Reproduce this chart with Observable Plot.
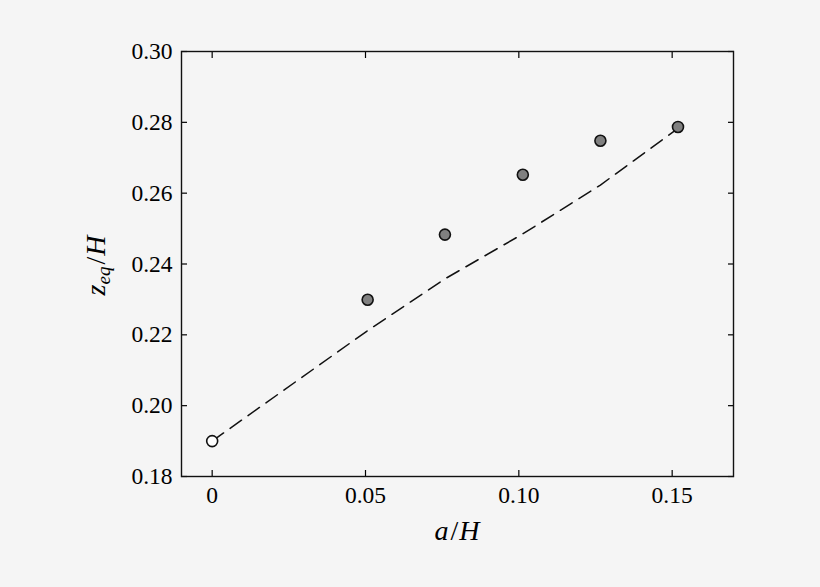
<!DOCTYPE html>
<html><head><meta charset="utf-8">
<script src="https://cdn.jsdelivr.net/npm/d3@7"></script>
<script src="https://cdn.jsdelivr.net/npm/@observablehq/plot@0.6"></script>
<style>html,body{margin:0;padding:0;background:#f5f5f5}</style>
</head><body><div id="chart"></div>
<script>
const xTicks = [0, 0.05, 0.10, 0.15];
const xTickLabels = ["0", "0.05", "0.10", "0.15"];
const yTicks = [0.18, 0.20, 0.22, 0.24, 0.26, 0.28, 0.30];
const yTickLabels = ["0.18", "0.20", "0.22", "0.24", "0.26", "0.28", "0.30"];

// filled markers
const aH = [0.0507, 0.0759, 0.1013, 0.1266, 0.1519];
const zeqH = [0.2299, 0.2483, 0.2652, 0.2748, 0.2787];
// open marker
const aOpen = [0];
const zOpen = [0.19];
// dashed curve
const lineA = [0, 0.0507, 0.0759, 0.1013, 0.1266, 0.1519];
const lineZ = [0.19, 0.2212, 0.2358, 0.2485, 0.2623, 0.2783];

const pts = aH.map((a, i) => ({a, z: zeqH[i]}));
const open = aOpen.map((a, i) => ({a, z: zOpen[i]}));
const line = lineA.map((a, i) => ({a, z: lineZ[i]}));

const lab = (ticks, labels) => d => labels[ticks.findIndex(t => Math.abs(t - d) < 1e-9)];
const font = "'Liberation Serif', 'DejaVu Serif', serif";

const plot = Plot.plot({
  width: 820, height: 587,
  marginLeft: 181, marginRight: 87, marginTop: 51, marginBottom: 111,
  style: {background: "#f5f5f5", fontFamily: font, color: "#000"},
  x: {domain: [-0.01, 0.17]},
  y: {domain: [0.18, 0.30]},
  marks: [
    Plot.axisX({ticks: xTicks, tickSize: 0, tickPadding: 10, tickFormat: lab(xTicks, xTickLabels), fontSize: 23.5, label: null}),
    Plot.axisY({ticks: yTicks, tickSize: 0, tickPadding: 9, tickFormat: lab(yTicks, yTickLabels), fontSize: 23.5, label: null}),
    Plot.axisX({anchor: "bottom", ticks: xTicks, tickSize: -6, tickFormat: () => "", label: null, strokeWidth: 1.2}),
    Plot.axisX({anchor: "top", ticks: xTicks, tickSize: -6, tickFormat: () => "", label: null, strokeWidth: 1.2}),
    Plot.axisY({anchor: "left", ticks: yTicks, tickSize: -6, tickFormat: () => "", label: null, strokeWidth: 1.2}),
    Plot.axisY({anchor: "right", ticks: yTicks, tickSize: -6, tickFormat: () => "", label: null, strokeWidth: 1.2}),
    Plot.frame({stroke: "#111", strokeWidth: 1.4}),
    Plot.line(line, {x: "a", y: "z", stroke: "#111", strokeWidth: 1.5, strokeDasharray: "14,8"}),
    Plot.dot(open, {x: "a", y: "z", r: 5.5, fill: "white", stroke: "#111", strokeWidth: 1.6}),
    Plot.dot(pts, {x: "a", y: "z", r: 5.5, fill: "#808080", stroke: "#111", strokeWidth: 1.6})
  ]
});
document.getElementById("chart").appendChild(plot);

// axis titles (italic math-style text)
const svg = d3.select(plot);
const xr = plot.scale("x").range, yr = plot.scale("y").range;
const cx = (xr[0] + xr[1]) / 2, cy = (yr[0] + yr[1]) / 2;
const xt = svg.append("text")
  .attr("x", cx).attr("y", yr[0] + 64)
  .attr("text-anchor", "middle")
  .style("font-family", font).style("font-size", "28px").attr("fill", "#000");
xt.append("tspan").style("font-style", "italic").text("a");
xt.append("tspan").attr("dx", 2).text("/");
xt.append("tspan").style("font-style", "italic").attr("dx", 1).text("H");

const yt = svg.append("text")
  .attr("transform", `translate(${xr[0] - 76},${cy + 2}) rotate(-90)`)
  .attr("text-anchor", "middle")
  .style("font-family", font).style("font-size", "28px").attr("fill", "#000");
yt.append("tspan").style("font-style", "italic").text("z");
yt.append("tspan").style("font-style", "italic").style("font-size", "19px").attr("dy", 5).text("eq");
yt.append("tspan").attr("dy", -5).attr("dx", 2).text("/");
yt.append("tspan").style("font-style", "italic").attr("dx", 1).text("H");
</script>
</body></html>
